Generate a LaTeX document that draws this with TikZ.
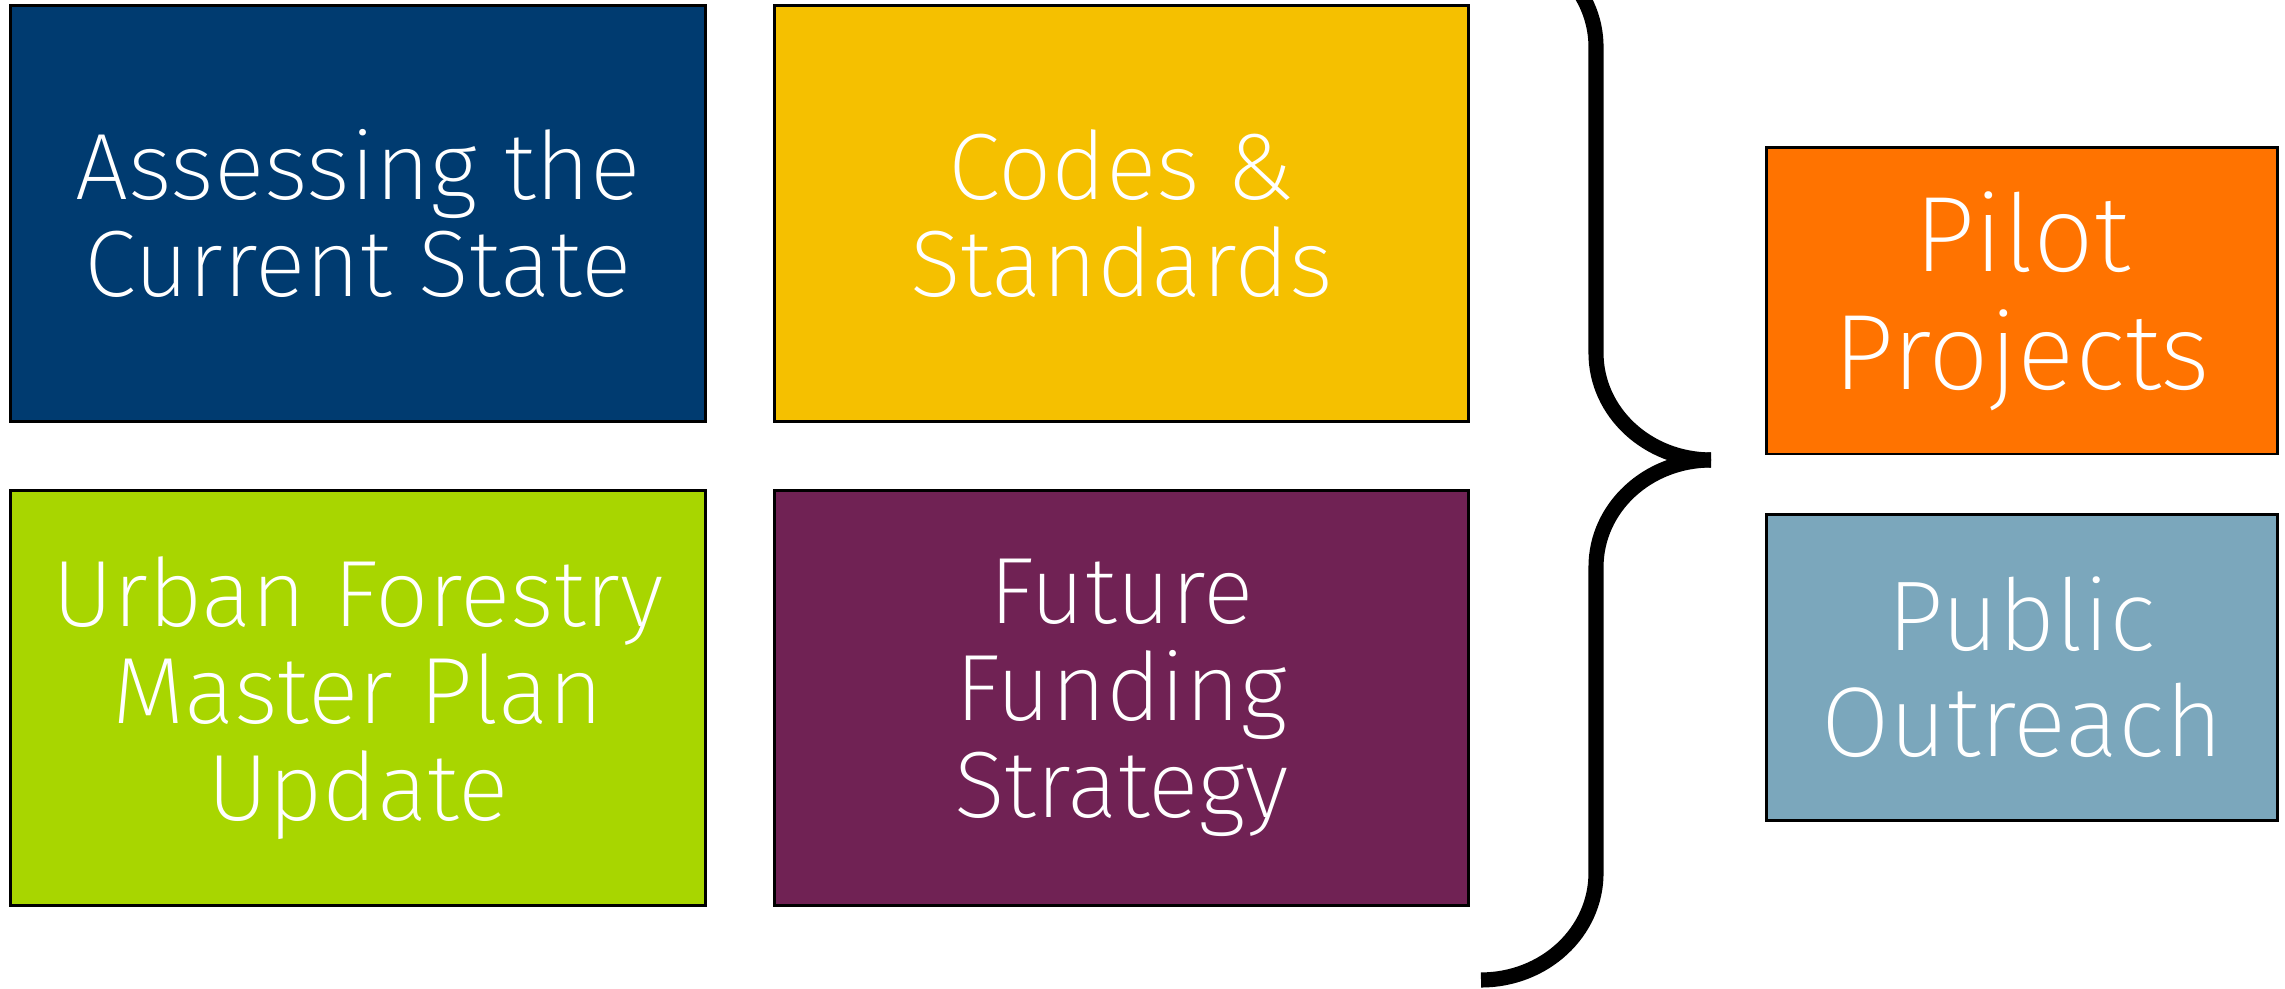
\documentclass[tikz,border=0pt]{standalone}
\usepackage{fontspec}
\usetikzlibrary{positioning}
\newfontfamily\tilefont{Fira Sans ExtraLight}
\definecolor{navy}{RGB}{0,59,112}
\definecolor{gold}{RGB}{245,192,0}
\definecolor{lime}{RGB}{168,214,0}
\definecolor{plum}{RGB}{112,34,84}
\definecolor{tangerine}{RGB}{255,115,0}
\definecolor{steel}{RGB}{123,167,188}

\begin{document}
\begin{tikzpicture}[x=0.01cm, y=0.01cm, node distance=0.69cm,
	tile/.style={rectangle, draw=black, line width=0.8pt, inner sep=0pt, outer sep=0pt, text=white, align=center, minimum width=6.94cm, minimum height=4.15cm, font=\tilefont\fontsize{26.8pt}{27.6pt}\selectfont},
	side tile/.style={tile, minimum width=5.10cm, minimum height=3.06cm}]
	\useasboundingbox (0,0) rectangle (2285,989);

	\node[tile, fill=navy] (assess) at (358,775.5) {Assessing the\\Current State};
	\node[tile, fill=gold] (codes) [right=of assess] {Codes \&\\Standards};
	\node[tile, fill=lime] (urban) [below=of assess] {Urban Forestry\\Master Plan\\Update};
	\node[tile, fill=plum] (funding) [right=of urban] {Future\\Funding\\Strategy};

	\node[side tile, fill=tangerine, font=\tilefont\fontsize{30.5pt}{33.6pt}\selectfont] (pilot) at (2022,688) {Pilot\\Projects};
	\node[side tile, fill=steel, font=\tilefont\fontsize{28.2pt}{29.9pt}\selectfont] (public) [below=0.6cm of pilot] {Public\\Outreach};

	% the brace
	\begin{scope}
		\clip (0,0) rectangle (2285,989);
		\draw[line width=4.3pt] (1481,1049) arc[start angle=90, end angle=0, x radius=115, y radius=107]
			-- (1596,636) arc[start angle=180, end angle=270, x radius=115, y radius=107] coordinate (tip);
		\draw[line width=4.3pt] (tip) arc[start angle=90, end angle=180, x radius=115, y radius=107]
			-- (1596,116) arc[start angle=0, end angle=-90, x radius=115, y radius=107];
	\end{scope}
\end{tikzpicture}
\end{document}
